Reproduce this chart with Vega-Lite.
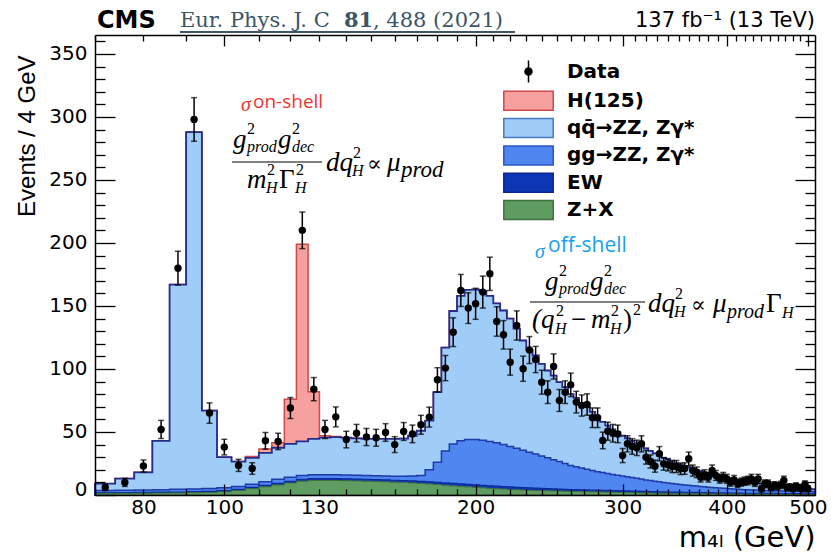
{
"$schema": "https://vega.github.io/schema/vega-lite/v6.json",
"width": 720, "height": 460,
"autosize": {"type": "none"},
"padding": {"left": 95, "top": 35, "right": 16, "bottom": 58},
"background": "white",
"config": {"view": {"stroke": null}, "font": "DejaVu Sans"},
"datasets": {"bins": [
{"lo":70,"zx":1.2,"ew":1.8,"gg":3.5,"qq":9,"h":9,"m":72,"d":6,"e":2.4},
{"lo":74,"zx":1.3,"ew":2,"gg":3.8,"qq":13,"h":13,"m":76,"d":10,"e":3.2},
{"lo":78,"zx":1.4,"ew":2.1,"gg":4,"qq":18,"h":18,"m":80,"d":23,"e":4.8},
{"lo":82,"zx":1.5,"ew":2.3,"gg":4.2,"qq":43,"h":43,"m":84,"d":52,"e":7.2},
{"lo":86,"zx":1.6,"ew":2.4,"gg":4.5,"qq":167,"h":167,"m":88,"d":180,"e":13.4},
{"lo":90,"zx":1.8,"ew":2.6,"gg":4.8,"qq":288,"h":288,"m":92,"d":298,"e":17.3},
{"lo":94,"zx":2,"ew":2.9,"gg":5.2,"qq":67,"h":67,"m":96,"d":65,"e":8.1},
{"lo":98,"zx":2.5,"ew":3.4,"gg":5.8,"qq":30,"h":30,"m":100,"d":38,"e":6.2},
{"lo":102,"zx":3.5,"ew":4.4,"gg":6.8,"qq":26.5,"h":26.5,"m":104,"d":23.5,"e":4.8},
{"lo":106,"zx":5,"ew":6,"gg":8.5,"qq":29.5,"h":30.5,"m":108,"d":21,"e":4.6},
{"lo":110,"zx":6.5,"ew":7.6,"gg":10.5,"qq":33.5,"h":36.5,"m":112,"d":43,"e":6.6},
{"lo":114,"zx":8,"ew":9.2,"gg":12.5,"qq":37.5,"h":41.5,"m":116,"d":42.5,"e":6.5},
{"lo":118,"zx":9.5,"ew":10.8,"gg":14,"qq":40.5,"h":76,"m":120,"d":69,"e":8.3},
{"lo":122,"zx":11,"ew":12.5,"gg":15.5,"qq":42.5,"h":199,"m":124,"d":210,"e":14.5},
{"lo":126,"zx":11.5,"ew":13,"gg":16,"qq":44.5,"h":82,"m":128,"d":84,"e":9.2},
{"lo":130,"zx":11.5,"ew":13,"gg":16,"qq":45.5,"h":47,"m":132,"d":52,"e":7.2},
{"lo":134,"zx":11.5,"ew":13,"gg":16,"qq":46,"h":46.5,"m":136,"d":62,"e":7.9},
{"lo":138,"zx":11.3,"ew":12.8,"gg":15.8,"qq":45.5,"h":45.5,"m":140,"d":44,"e":6.6},
{"lo":142,"zx":11.2,"ew":12.7,"gg":15.6,"qq":45,"h":45,"m":144,"d":49,"e":7},
{"lo":146,"zx":11,"ew":12.5,"gg":15.5,"qq":44.6,"h":44.6,"m":148,"d":46,"e":6.8},
{"lo":150,"zx":10.8,"ew":12.3,"gg":15.3,"qq":44.6,"h":44.6,"m":152,"d":45.4,"e":6.7},
{"lo":154,"zx":10.5,"ew":12,"gg":15,"qq":44.6,"h":44.6,"m":156,"d":49.6,"e":7},
{"lo":158,"zx":10.2,"ew":11.7,"gg":14.8,"qq":44.6,"h":44.6,"m":160,"d":40,"e":6.3},
{"lo":162,"zx":10,"ew":11.5,"gg":14.8,"qq":44.8,"h":44.8,"m":164,"d":50.4,"e":7.1},
{"lo":166,"zx":9.6,"ew":11.2,"gg":15,"qq":47,"h":47,"m":168,"d":48.5,"e":7},
{"lo":170,"zx":9.2,"ew":10.8,"gg":15.5,"qq":51,"h":51,"m":172,"d":55.7,"e":7.5},
{"lo":174,"zx":8.8,"ew":10.5,"gg":20,"qq":59,"h":59,"m":176,"d":61.8,"e":7.9},
{"lo":178,"zx":8.3,"ew":10,"gg":26,"qq":81.6,"h":81.6,"m":180,"d":91.4,"e":9.6},
{"lo":182,"zx":7.8,"ew":9.6,"gg":35,"qq":117,"h":117,"m":184,"d":100.7,"e":10},
{"lo":186,"zx":7.3,"ew":9.2,"gg":40.5,"qq":146,"h":146,"m":188,"d":129.2,"e":11.4},
{"lo":190,"zx":6.9,"ew":8.8,"gg":43,"qq":158,"h":158,"m":192,"d":162.3,"e":12.7},
{"lo":194,"zx":6.5,"ew":8.4,"gg":44,"qq":162.8,"h":162.8,"m":196,"d":148.3,"e":12.2},
{"lo":198,"zx":6.1,"ew":8.1,"gg":44,"qq":163,"h":163,"m":200,"d":151.7,"e":12.3},
{"lo":202,"zx":5.7,"ew":7.7,"gg":43.5,"qq":162,"h":162,"m":204,"d":161,"e":12.7},
{"lo":206,"zx":5.3,"ew":7.3,"gg":42.5,"qq":158,"h":158,"m":208,"d":175.5,"e":13.2},
{"lo":210,"zx":5,"ew":7,"gg":41.5,"qq":152,"h":152,"m":212,"d":137.7,"e":11.7},
{"lo":214,"zx":4.7,"ew":6.7,"gg":40,"qq":146.4,"h":146.4,"m":216,"d":127.1,"e":11.3},
{"lo":218,"zx":4.4,"ew":6.4,"gg":38.5,"qq":140,"h":140,"m":220,"d":105.4,"e":10.3},
{"lo":222,"zx":4.2,"ew":6.1,"gg":37,"qq":132,"h":132,"m":224,"d":134.5,"e":11.6},
{"lo":226,"zx":4,"ew":5.9,"gg":35.5,"qq":122.6,"h":122.6,"m":228,"d":100.2,"e":10},
{"lo":230,"zx":3.8,"ew":5.6,"gg":34,"qq":115,"h":115,"m":232,"d":115,"e":10.7},
{"lo":234,"zx":3.6,"ew":5.4,"gg":32.5,"qq":110.7,"h":110.7,"m":236,"d":107.5,"e":10.4},
{"lo":238,"zx":3.5,"ew":5.2,"gg":31,"qq":104,"h":104,"m":240,"d":89.5,"e":9.5},
{"lo":242,"zx":3.4,"ew":5,"gg":29.5,"qq":98.8,"h":98.8,"m":244,"d":81.6,"e":9},
{"lo":246,"zx":3.2,"ew":4.8,"gg":28,"qq":94.8,"h":94.8,"m":248,"d":102,"e":10},
{"lo":250,"zx":3.1,"ew":4.6,"gg":26.5,"qq":89.5,"h":89.5,"m":252,"d":75,"e":8.7},
{"lo":254,"zx":3,"ew":4.5,"gg":25,"qq":85.6,"h":85.6,"m":256,"d":81.6,"e":9},
{"lo":258,"zx":2.9,"ew":4.3,"gg":23.5,"qq":80,"h":80,"m":260,"d":87.4,"e":9.3},
{"lo":262,"zx":2.8,"ew":4.2,"gg":22.5,"qq":77,"h":77,"m":264,"d":73.7,"e":8.6},
{"lo":266,"zx":2.7,"ew":4.1,"gg":21.5,"qq":73,"h":73,"m":268,"d":71,"e":8.4},
{"lo":270,"zx":2.6,"ew":4,"gg":20.5,"qq":70,"h":70,"m":272,"d":71.8,"e":8.5},
{"lo":274,"zx":2.5,"ew":3.9,"gg":19.5,"qq":66,"h":66,"m":276,"d":61.3,"e":7.8},
{"lo":278,"zx":2.4,"ew":3.8,"gg":18.5,"qq":62,"h":62,"m":280,"d":61.3,"e":7.8},
{"lo":282,"zx":2.3,"ew":3.7,"gg":17.8,"qq":58,"h":58,"m":284,"d":43.3,"e":6.6},
{"lo":286,"zx":2.2,"ew":3.6,"gg":17,"qq":55,"h":55,"m":288,"d":50.6,"e":7.1},
{"lo":290,"zx":2.1,"ew":3.5,"gg":16.3,"qq":52,"h":52,"m":292,"d":49,"e":7},
{"lo":294,"zx":2,"ew":3.4,"gg":15.6,"qq":50,"h":50,"m":296,"d":48.5,"e":7},
{"lo":298,"zx":1.9,"ew":3.3,"gg":15,"qq":47,"h":47,"m":300,"d":31.3,"e":5.6},
{"lo":302,"zx":1.8,"ew":3.2,"gg":14.4,"qq":45,"h":45,"m":304,"d":40.6,"e":6.4},
{"lo":306,"zx":1.75,"ew":3.1,"gg":13.8,"qq":43,"h":43,"m":308,"d":38.5,"e":6.2},
{"lo":310,"zx":1.7,"ew":3,"gg":13.2,"qq":41,"h":41,"m":312,"d":37.4,"e":6.1},
{"lo":314,"zx":1.6,"ew":2.9,"gg":12.6,"qq":39,"h":39,"m":316,"d":40.6,"e":6.4},
{"lo":318,"zx":1.55,"ew":2.8,"gg":12,"qq":37,"h":37,"m":320,"d":30,"e":5.5},
{"lo":322,"zx":1.5,"ew":2.7,"gg":11.5,"qq":35,"h":35,"m":324,"d":26.6,"e":5.2},
{"lo":326,"zx":1.45,"ew":2.6,"gg":11,"qq":33,"h":33,"m":328,"d":22.9,"e":4.8},
{"lo":330,"zx":1.4,"ew":2.5,"gg":10.5,"qq":31,"h":31,"m":332,"d":32.7,"e":5.7},
{"lo":334,"zx":1.35,"ew":2.45,"gg":10,"qq":29.5,"h":29.5,"m":336,"d":24.7,"e":5},
{"lo":338,"zx":1.3,"ew":2.4,"gg":9.6,"qq":28,"h":28,"m":340,"d":24,"e":4.9},
{"lo":342,"zx":1.25,"ew":2.35,"gg":9.2,"qq":26.5,"h":26.5,"m":344,"d":22.6,"e":4.8},
{"lo":346,"zx":1.2,"ew":2.3,"gg":8.8,"qq":25,"h":25,"m":348,"d":22.6,"e":4.8},
{"lo":350,"zx":1.15,"ew":2.25,"gg":8.4,"qq":24,"h":24,"m":352,"d":20.8,"e":4.6},
{"lo":354,"zx":1.1,"ew":2.2,"gg":8,"qq":23,"h":23,"m":356,"d":21,"e":4.6},
{"lo":358,"zx":1.05,"ew":2.15,"gg":7.7,"qq":22,"h":22,"m":360,"d":28.7,"e":5.4},
{"lo":362,"zx":1,"ew":2.1,"gg":7.4,"qq":21,"h":21,"m":364,"d":19.4,"e":4.4},
{"lo":366,"zx":0.98,"ew":2.05,"gg":7.1,"qq":20,"h":20,"m":368,"d":18,"e":4.2},
{"lo":370,"zx":0.95,"ew":2,"gg":6.8,"qq":19,"h":19,"m":372,"d":14.1,"e":3.8},
{"lo":374,"zx":0.92,"ew":1.95,"gg":6.5,"qq":18,"h":18,"m":376,"d":16,"e":4},
{"lo":378,"zx":0.9,"ew":1.9,"gg":6.2,"qq":17.2,"h":17.2,"m":380,"d":14.1,"e":3.8},
{"lo":382,"zx":0.87,"ew":1.85,"gg":6,"qq":16.4,"h":16.4,"m":384,"d":19.4,"e":4.4},
{"lo":386,"zx":0.85,"ew":1.8,"gg":5.7,"qq":15.6,"h":15.6,"m":388,"d":15.5,"e":3.9},
{"lo":390,"zx":0.82,"ew":1.75,"gg":5.5,"qq":15,"h":15,"m":392,"d":13,"e":3.6},
{"lo":394,"zx":0.8,"ew":1.7,"gg":5.3,"qq":14.3,"h":14.3,"m":396,"d":14.1,"e":3.8},
{"lo":398,"zx":0.78,"ew":1.65,"gg":5.1,"qq":13.7,"h":13.7,"m":400,"d":12.8,"e":3.6},
{"lo":402,"zx":0.75,"ew":1.6,"gg":4.9,"qq":13,"h":13,"m":404,"d":10.2,"e":3.2},
{"lo":406,"zx":0.73,"ew":1.55,"gg":4.7,"qq":12.5,"h":12.5,"m":408,"d":12,"e":3.5},
{"lo":410,"zx":0.7,"ew":1.5,"gg":4.5,"qq":12,"h":12,"m":412,"d":9,"e":3},
{"lo":414,"zx":0.68,"ew":1.45,"gg":4.35,"qq":11.5,"h":11.5,"m":416,"d":10.2,"e":3.2},
{"lo":418,"zx":0.66,"ew":1.4,"gg":4.2,"qq":11,"h":11,"m":420,"d":11,"e":3.3},
{"lo":422,"zx":0.64,"ew":1.38,"gg":4.1,"qq":10.5,"h":10.5,"m":424,"d":11.5,"e":3.4},
{"lo":426,"zx":0.62,"ew":1.36,"gg":4,"qq":10.1,"h":10.1,"m":428,"d":12.8,"e":3.6},
{"lo":430,"zx":0.6,"ew":1.34,"gg":3.9,"qq":9.7,"h":9.7,"m":432,"d":10,"e":3.2},
{"lo":434,"zx":0.58,"ew":1.32,"gg":3.8,"qq":9.3,"h":9.3,"m":436,"d":12.8,"e":3.6},
{"lo":438,"zx":0.56,"ew":1.3,"gg":3.7,"qq":9,"h":9,"m":440,"d":4.9,"e":2.2},
{"lo":442,"zx":0.55,"ew":1.28,"gg":3.6,"qq":8.6,"h":8.6,"m":444,"d":9,"e":3},
{"lo":446,"zx":0.54,"ew":1.26,"gg":3.5,"qq":8.2,"h":8.2,"m":448,"d":8.9,"e":3},
{"lo":450,"zx":0.53,"ew":1.24,"gg":3.4,"qq":7.9,"h":7.9,"m":452,"d":6,"e":2.4},
{"lo":454,"zx":0.52,"ew":1.22,"gg":3.35,"qq":7.6,"h":7.6,"m":456,"d":7.7,"e":2.8},
{"lo":458,"zx":0.51,"ew":1.2,"gg":3.3,"qq":7.3,"h":7.3,"m":460,"d":7,"e":2.6},
{"lo":462,"zx":0.5,"ew":1.18,"gg":3.2,"qq":7,"h":7,"m":464,"d":8,"e":2.8},
{"lo":466,"zx":0.49,"ew":1.16,"gg":3.15,"qq":6.7,"h":6.7,"m":468,"d":11.5,"e":3.4},
{"lo":470,"zx":0.48,"ew":1.14,"gg":3.1,"qq":6.4,"h":6.4,"m":472,"d":6,"e":2.4},
{"lo":474,"zx":0.47,"ew":1.12,"gg":3.05,"qq":6.1,"h":6.1,"m":476,"d":6.4,"e":2.5},
{"lo":478,"zx":0.46,"ew":1.1,"gg":3,"qq":5.8,"h":5.8,"m":480,"d":5,"e":2.2},
{"lo":482,"zx":0.45,"ew":1.08,"gg":2.95,"qq":5.6,"h":5.6,"m":484,"d":7,"e":2.6},
{"lo":486,"zx":0.44,"ew":1.06,"gg":2.9,"qq":5.4,"h":5.4,"m":488,"d":6,"e":2.4},
{"lo":490,"zx":0.43,"ew":1.04,"gg":2.85,"qq":5.2,"h":5.2,"m":492,"d":5,"e":2.2},
{"lo":494,"zx":0.42,"ew":1.02,"gg":2.8,"qq":5,"h":5,"m":496,"d":8.3,"e":2.9},
{"lo":498,"zx":0.41,"ew":1,"gg":2.75,"qq":4.8,"h":4.8,"m":500,"d":5,"e":2.2},
{"lo":502,"zx":0.4,"ew":0.98,"gg":2.7,"qq":4.6,"h":4.6},
{"lo":506,"zx":0.4,"ew":0.96,"gg":2.65,"qq":4.5,"h":4.5},
{"lo":510,"zx":0.4,"ew":0.96,"gg":2.65,"qq":4.5,"h":4.5}
]},
"data": {"name": "bins"},
"resolve": {"axis": {"x": "independent", "y": "independent"}},
"layer": [
{
"mark": {"type": "area", "interpolate": "step-after", "strokeWidth": 1.5, "opacity": 1},
"encoding": {
"x": {"field": "lo", "type": "quantitative", "scale": {"type": "log", "domain": [70, 510], "nice": false},
 "axis": {"orient": "bottom", "zindex": 1,
 "values": [70,80,90,100,110,120,130,140,150,160,170,180,190,200,210,220,230,240,250,260,270,280,290,300,310,320,330,340,350,360,370,380,390,400,410,420,430,440,450,460,470,480,490,500],
 "domain": true, "domainColor": "black", "domainWidth": 1.5,
 "ticks": true, "tickColor": "black", "tickWidth": 1.3,
 "tickSize": {"condition": {"test": "datum.value % 100 === 0", "value": -11}, "value": -6},
 "labelExpr": "indexof([80,100,130,200,300,400,500], datum.value) >= 0 ? '' + datum.value : ''",
 "labelFont": "DejaVu Sans", "labelFontSize": 20, "labelColor": "black", "labelBaseline": "top",
 "labelFlush": false, "labelOverlap": false,
 "labelPadding": {"condition": {"test": "datum.value % 100 === 0", "value": 13.5}, "value": 8.5},
 "grid": false,
 "title": "m₄ₗ (GeV)", "titleFont": "DejaVu Sans", "titleFontSize": 29, "titleFontWeight": "normal", "titleColor": "black",
 "titleX": 720, "titleY": 51, "titleAlign": "right", "titleBaseline": "alphabetic", "titleAngle": 0}},
"y": {"field": "h", "type": "quantitative", "stack": null, "scale": {"domain": [0, 365], "nice": false, "zero": true},
 "axis": {"orient": "left", "zindex": 1,
 "values": [0,10,20,30,40,50,60,70,80,90,100,110,120,130,140,150,160,170,180,190,200,210,220,230,240,250,260,270,280,290,300,310,320,330,340,350,360],
 "domain": true, "domainColor": "black", "domainWidth": 1.5,
 "tickColor": "black", "tickWidth": 1.3,
 "tickSize": {"condition": {"test": "datum.value % 50 === 0", "value": -20}, "value": -10},
 "labelExpr": "datum.value % 50 === 0 ? '' + datum.value : ''",
 "labelFont": "DejaVu Sans", "labelFontSize": 20, "labelColor": "black",
 "labelPadding": {"condition": {"test": "datum.value % 50 === 0", "value": 28}, "value": 18},
 "labelBaseline": {"condition": {"test": "datum.value === 0", "value": "alphabetic"}, "value": "middle"},
 "labelFlush": false, "labelOverlap": false, "grid": false,
 "title": "Events / 4 GeV", "titleFont": "Liberation Sans", "titleFontSize": 24, "titleFontWeight": "normal", "titleColor": "black",
 "titleX": -61, "titleY": 20, "titleAlign": "right", "titleBaseline": "alphabetic", "titleAngle": 270}},
"color": {"datum": "h", "type": "nominal",
 "scale": {"domain": ["data", "h", "qq", "gg", "ew", "zx"], "range": ["#000000", "#f7a0a0", "#a0cdf7", "#4f86f0", "#0d36b4", "#5e9c62"]},
 "legend": {"orient": "none", "legendX": 423, "legendY": 26, "title": null, "direction": "vertical",
 "labelFont": "DejaVu Sans", "labelFontWeight": "bold", "labelFontSize": 20, "labelColor": "black", "labelLimit": 400,
 "symbolSize": 361, "symbolStrokeWidth": 1.5, "symbolOpacity": 1,
 "labelOffset": 28, "rowPadding": 2.3,
 "labelExpr": "datum.value === 'data' ? 'Data' : datum.value === 'h' ? 'H(125)' : datum.value === 'qq' ? 'qq̄→ZZ, Zγ*' : datum.value === 'gg' ? 'gg→ZZ, Zγ*' : datum.value === 'ew' ? 'EW' : 'Z+X'"}},
"stroke": {"datum": "h", "type": "nominal",
 "scale": {"domain": ["data", "h", "qq", "gg", "ew", "zx"], "range": ["#000000", "#d04848", "#4a78c0", "#2a55c8", "#0a2590", "#3e7040"]},
 "legend": {"orient": "none", "legendX": 423, "legendY": 26, "title": null}}
}
},
{
"mark": {"type": "area", "interpolate": "step-after", "fill": "#a0cdf7", "stroke": "#262c8c", "strokeWidth": 1.8, "opacity": 1},
"encoding": {
"x": {"field": "lo", "type": "quantitative", "scale": {"type": "log", "domain": [70, 510], "nice": false}, "axis": null},
"y": {"field": "qq", "type": "quantitative", "stack": null, "axis": null}}
},
{
"mark": {"type": "area", "interpolate": "step-after", "fill": "#4f86f0", "stroke": "#1d3aa8", "strokeWidth": 1.5, "opacity": 1},
"encoding": {
"x": {"field": "lo", "type": "quantitative", "scale": {"type": "log", "domain": [70, 510], "nice": false}, "axis": null},
"y": {"field": "gg", "type": "quantitative", "stack": null, "axis": null}}
},
{
"mark": {"type": "area", "interpolate": "step-after", "fill": "#0d36b4", "stroke": "#0a2a9a", "strokeWidth": 1.2, "opacity": 1},
"encoding": {
"x": {"field": "lo", "type": "quantitative", "scale": {"type": "log", "domain": [70, 510], "nice": false}, "axis": null},
"y": {"field": "ew", "type": "quantitative", "stack": null, "axis": null}}
},
{
"mark": {"type": "area", "interpolate": "step-after", "fill": "#5e9c62", "stroke": "#3e7040", "strokeWidth": 1, "opacity": 1},
"encoding": {
"x": {"field": "lo", "type": "quantitative", "scale": {"type": "log", "domain": [70, 510], "nice": false}, "axis": null},
"y": {"field": "zx", "type": "quantitative", "stack": null, "axis": null}}
},
{
"transform": [{"filter": "false"}],
"mark": {"type": "point", "filled": true, "opacity": 1},
"encoding": {
"x": {"field": "m", "type": "quantitative", "scale": {"type": "log", "domain": [70, 510], "nice": false}, "axis": null},
"y": {"field": "d", "type": "quantitative", "axis": null},
"shape": {"datum": "data", "type": "nominal",
 "scale": {"domain": ["data", "h", "qq", "gg", "ew", "zx"], "range": [
  "M0,-1.16V1.16M-0.37,0A0.37,0.37 0 1 1 0.37,0A0.37,0.37 0 1 1 -0.37,0Z",
  "M-2.6,-1H2.6V1H-2.6Z", "M-2.6,-1H2.6V1H-2.6Z", "M-2.6,-1H2.6V1H-2.6Z", "M-2.6,-1H2.6V1H-2.6Z", "M-2.6,-1H2.6V1H-2.6Z"]},
 "legend": {"orient": "none", "legendX": 423, "legendY": 26, "title": null}}}
},
{
"transform": [{"filter": "isValid(datum.d)"}],
"mark": {"type": "errorbar", "ticks": {"size": 6, "thickness": 1.5, "color": "black"}, "rule": {"strokeWidth": 1.5, "color": "black"}},
"encoding": {
"x": {"field": "m", "type": "quantitative", "scale": {"type": "log", "domain": [70, 510], "nice": false}, "axis": null},
"y": {"field": "d", "type": "quantitative", "axis": null},
"yError": {"field": "e"}}
},
{
"transform": [{"filter": "isValid(datum.d)"}],
"mark": {"type": "circle", "size": 55, "color": "black", "opacity": 1},
"encoding": {
"x": {"field": "m", "type": "quantitative", "scale": {"type": "log", "domain": [70, 510], "nice": false},
 "axis": {"orient": "top", "zindex": 1,
 "values": [70,80,90,100,110,120,130,140,150,160,170,180,190,200,210,220,230,240,250,260,270,280,290,300,310,320,330,340,350,360,370,380,390,400,410,420,430,440,450,460,470,480,490,500],
 "domain": true, "domainColor": "black", "domainWidth": 1.5, "tickColor": "black", "tickWidth": 1.3,
 "tickSize": {"condition": {"test": "datum.value % 100 === 0", "value": -11}, "value": -6},
 "labels": false, "grid": false, "title": null}},
"y": {"field": "d", "type": "quantitative",
 "axis": {"orient": "right", "zindex": 1,
 "values": [0,10,20,30,40,50,60,70,80,90,100,110,120,130,140,150,160,170,180,190,200,210,220,230,240,250,260,270,280,290,300,310,320,330,340,350,360],
 "domain": true, "domainColor": "black", "domainWidth": 1.5, "tickColor": "black", "tickWidth": 1.3,
 "tickSize": {"condition": {"test": "datum.value % 50 === 0", "value": -20}, "value": -10},
 "labels": false, "grid": false, "title": null}}}
},
{
"data": {"values": [{}]},
"layer": [
{"mark": {"type": "text", "text": "CMS", "font": "DejaVu Sans", "fontWeight": "bold", "fontSize": 24, "align": "left", "baseline": "alphabetic", "x": 2, "y": -7, "color": "black"}},
{"mark": {"type": "text", "text": "Eur. Phys. J. C", "font": "DejaVu Serif", "fontSize": 21, "align": "left", "baseline": "alphabetic", "x": 85, "y": -8, "color": "#3b5566"}},
{"mark": {"type": "text", "text": "81", "font": "DejaVu Serif", "fontWeight": "bold", "fontSize": 21, "align": "left", "baseline": "alphabetic", "x": 249, "y": -8, "color": "#3b5566"}},
{"mark": {"type": "text", "text": ", 488 (2021)", "font": "DejaVu Serif", "fontSize": 21, "align": "left", "baseline": "alphabetic", "x": 278, "y": -8, "color": "#3b5566"}},
{"mark": {"type": "rule", "color": "#3b5566", "strokeWidth": 2}, "encoding": {"x": {"value": 85}, "x2": {"value": 420}, "y": {"value": -3}}},
{"mark": {"type": "text", "text": "137 fb⁻¹ (13 TeV)", "font": "DejaVu Sans", "fontSize": 21, "align": "right", "baseline": "alphabetic", "x": 720, "y": -8, "color": "black"}},

{"mark": {"type": "text", "text": "σ", "font": "Liberation Serif", "fontStyle": "italic", "fontSize": 20, "align": "left", "baseline": "alphabetic", "x": 146, "y": 76, "color": "#f0352f"}},
{"mark": {"type": "text", "text": "on-shell", "font": "Open Sans", "fontSize": 19, "align": "left", "baseline": "alphabetic", "x": 158, "y": 73, "color": "#f0352f"}},
{"mark": {"type": "text", "text": "g", "font": "Liberation Serif", "fontStyle": "italic", "fontSize": 27, "align": "left", "baseline": "alphabetic", "x": 138, "y": 113, "color": "black"}},
{"mark": {"type": "text", "text": "2", "font": "Liberation Serif", "fontSize": 16, "align": "left", "baseline": "alphabetic", "x": 152, "y": 99, "color": "black"}},
{"mark": {"type": "text", "text": "prod", "font": "Liberation Serif", "fontStyle": "italic", "fontSize": 16, "align": "left", "baseline": "alphabetic", "x": 152, "y": 117, "color": "black"}},
{"mark": {"type": "text", "text": "g", "font": "Liberation Serif", "fontStyle": "italic", "fontSize": 27, "align": "left", "baseline": "alphabetic", "x": 183, "y": 113, "color": "black"}},
{"mark": {"type": "text", "text": "2", "font": "Liberation Serif", "fontSize": 16, "align": "left", "baseline": "alphabetic", "x": 197, "y": 99, "color": "black"}},
{"mark": {"type": "text", "text": "dec", "font": "Liberation Serif", "fontStyle": "italic", "fontSize": 16, "align": "left", "baseline": "alphabetic", "x": 197, "y": 117, "color": "black"}},
{"mark": {"type": "rule", "color": "black", "strokeWidth": 1.2}, "encoding": {"x": {"value": 137}, "x2": {"value": 227}, "y": {"value": 127}}},
{"mark": {"type": "text", "text": "m", "font": "Liberation Serif", "fontStyle": "italic", "fontSize": 27, "align": "left", "baseline": "alphabetic", "x": 152, "y": 153, "color": "black"}},
{"mark": {"type": "text", "text": "2", "font": "Liberation Serif", "fontSize": 16, "align": "left", "baseline": "alphabetic", "x": 172, "y": 140, "color": "black"}},
{"mark": {"type": "text", "text": "H", "font": "Liberation Serif", "fontStyle": "italic", "fontSize": 16, "align": "left", "baseline": "alphabetic", "x": 171, "y": 158, "color": "black"}},
{"mark": {"type": "text", "text": "Γ", "font": "Liberation Serif", "fontSize": 27, "align": "left", "baseline": "alphabetic", "x": 184, "y": 153, "color": "black"}},
{"mark": {"type": "text", "text": "2", "font": "Liberation Serif", "fontSize": 16, "align": "left", "baseline": "alphabetic", "x": 201, "y": 140, "color": "black"}},
{"mark": {"type": "text", "text": "H", "font": "Liberation Serif", "fontStyle": "italic", "fontSize": 16, "align": "left", "baseline": "alphabetic", "x": 200, "y": 158, "color": "black"}},
{"mark": {"type": "text", "text": "dq", "font": "Liberation Serif", "fontStyle": "italic", "fontSize": 27, "align": "left", "baseline": "alphabetic", "x": 231, "y": 136, "color": "black"}},
{"mark": {"type": "text", "text": "2", "font": "Liberation Serif", "fontSize": 16, "align": "left", "baseline": "alphabetic", "x": 258, "y": 123, "color": "black"}},
{"mark": {"type": "text", "text": "H", "font": "Liberation Serif", "fontStyle": "italic", "fontSize": 16, "align": "left", "baseline": "alphabetic", "x": 257, "y": 141, "color": "black"}},
{"mark": {"type": "text", "text": "∝", "font": "DejaVu Serif", "fontSize": 22, "align": "left", "baseline": "alphabetic", "x": 272, "y": 136, "color": "black"}},
{"mark": {"type": "text", "text": "μ", "font": "Liberation Serif", "fontStyle": "italic", "fontSize": 27, "align": "left", "baseline": "alphabetic", "x": 292, "y": 136, "color": "black"}},
{"mark": {"type": "text", "text": "prod", "font": "Liberation Serif", "fontStyle": "italic", "fontSize": 23, "align": "left", "baseline": "alphabetic", "x": 306, "y": 142, "color": "black"}},

{"mark": {"type": "text", "text": "σ", "font": "Liberation Serif", "fontStyle": "italic", "fontSize": 20, "align": "left", "baseline": "alphabetic", "x": 440, "y": 223, "color": "#19a0f0"}},
{"mark": {"type": "text", "text": "off-shell", "font": "Open Sans", "fontSize": 21, "align": "left", "baseline": "alphabetic", "x": 453, "y": 217, "color": "#19a0f0"}},
{"mark": {"type": "text", "text": "g", "font": "Liberation Serif", "fontStyle": "italic", "fontSize": 27, "align": "left", "baseline": "alphabetic", "x": 450, "y": 255, "color": "black"}},
{"mark": {"type": "text", "text": "2", "font": "Liberation Serif", "fontSize": 16, "align": "left", "baseline": "alphabetic", "x": 464, "y": 241, "color": "black"}},
{"mark": {"type": "text", "text": "prod", "font": "Liberation Serif", "fontStyle": "italic", "fontSize": 16, "align": "left", "baseline": "alphabetic", "x": 464, "y": 259, "color": "black"}},
{"mark": {"type": "text", "text": "g", "font": "Liberation Serif", "fontStyle": "italic", "fontSize": 27, "align": "left", "baseline": "alphabetic", "x": 495, "y": 255, "color": "black"}},
{"mark": {"type": "text", "text": "2", "font": "Liberation Serif", "fontSize": 16, "align": "left", "baseline": "alphabetic", "x": 509, "y": 241, "color": "black"}},
{"mark": {"type": "text", "text": "dec", "font": "Liberation Serif", "fontStyle": "italic", "fontSize": 16, "align": "left", "baseline": "alphabetic", "x": 509, "y": 259, "color": "black"}},
{"mark": {"type": "rule", "color": "black", "strokeWidth": 1.2}, "encoding": {"x": {"value": 435}, "x2": {"value": 550}, "y": {"value": 267}}},
{"mark": {"type": "text", "text": "(q", "font": "Liberation Serif", "fontStyle": "italic", "fontSize": 27, "align": "left", "baseline": "alphabetic", "x": 437, "y": 293, "color": "black"}},
{"mark": {"type": "text", "text": "2", "font": "Liberation Serif", "fontSize": 16, "align": "left", "baseline": "alphabetic", "x": 461, "y": 281, "color": "black"}},
{"mark": {"type": "text", "text": "H", "font": "Liberation Serif", "fontStyle": "italic", "fontSize": 16, "align": "left", "baseline": "alphabetic", "x": 460, "y": 299, "color": "black"}},
{"mark": {"type": "text", "text": "−", "font": "Liberation Serif", "fontSize": 27, "align": "left", "baseline": "alphabetic", "x": 476, "y": 293, "color": "black"}},
{"mark": {"type": "text", "text": "m", "font": "Liberation Serif", "fontStyle": "italic", "fontSize": 27, "align": "left", "baseline": "alphabetic", "x": 496, "y": 293, "color": "black"}},
{"mark": {"type": "text", "text": "2", "font": "Liberation Serif", "fontSize": 16, "align": "left", "baseline": "alphabetic", "x": 516, "y": 281, "color": "black"}},
{"mark": {"type": "text", "text": "H", "font": "Liberation Serif", "fontStyle": "italic", "fontSize": 16, "align": "left", "baseline": "alphabetic", "x": 515, "y": 299, "color": "black"}},
{"mark": {"type": "text", "text": ")", "font": "Liberation Serif", "fontSize": 27, "align": "left", "baseline": "alphabetic", "x": 528, "y": 293, "color": "black"}},
{"mark": {"type": "text", "text": "2", "font": "Liberation Serif", "fontSize": 16, "align": "left", "baseline": "alphabetic", "x": 538, "y": 280, "color": "black"}},
{"mark": {"type": "text", "text": "dq", "font": "Liberation Serif", "fontStyle": "italic", "fontSize": 27, "align": "left", "baseline": "alphabetic", "x": 553, "y": 277, "color": "black"}},
{"mark": {"type": "text", "text": "2", "font": "Liberation Serif", "fontSize": 16, "align": "left", "baseline": "alphabetic", "x": 580, "y": 264, "color": "black"}},
{"mark": {"type": "text", "text": "H", "font": "Liberation Serif", "fontStyle": "italic", "fontSize": 16, "align": "left", "baseline": "alphabetic", "x": 579, "y": 282, "color": "black"}},
{"mark": {"type": "text", "text": "∝", "font": "DejaVu Serif", "fontSize": 22, "align": "left", "baseline": "alphabetic", "x": 596, "y": 277, "color": "black"}},
{"mark": {"type": "text", "text": "μ", "font": "Liberation Serif", "fontStyle": "italic", "fontSize": 27, "align": "left", "baseline": "alphabetic", "x": 618, "y": 277, "color": "black"}},
{"mark": {"type": "text", "text": "prod", "font": "Liberation Serif", "fontStyle": "italic", "fontSize": 20, "align": "left", "baseline": "alphabetic", "x": 632, "y": 283, "color": "black"}},
{"mark": {"type": "text", "text": "Γ", "font": "Liberation Serif", "fontSize": 27, "align": "left", "baseline": "alphabetic", "x": 671, "y": 277, "color": "black"}},
{"mark": {"type": "text", "text": "H", "font": "Liberation Serif", "fontStyle": "italic", "fontSize": 16, "align": "left", "baseline": "alphabetic", "x": 687, "y": 283, "color": "black"}}
]
}
]
}
